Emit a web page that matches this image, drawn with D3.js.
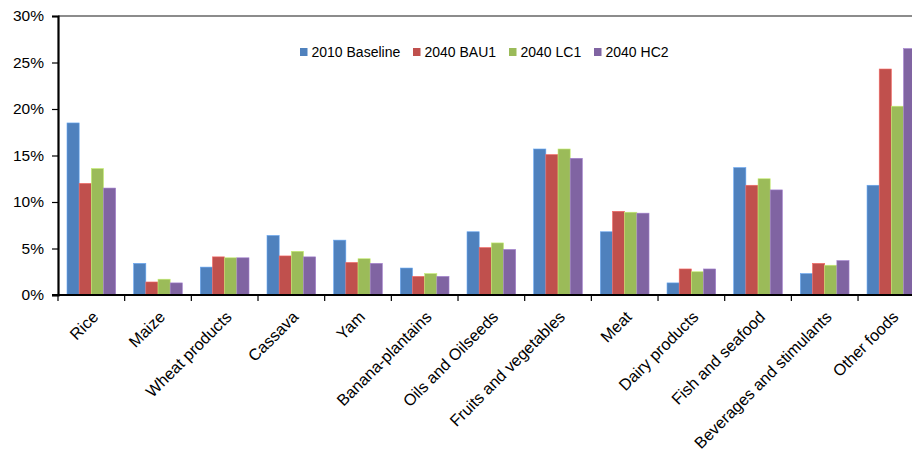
<!DOCTYPE html>
<html><head><meta charset="utf-8">
<script src="https://cdn.jsdelivr.net/npm/d3@7"></script>
<style>
html,body{margin:0;padding:0;background:#fff;}
svg{display:block;font-family:"Liberation Sans",Arial,sans-serif;}
</style></head><body>
<svg id="chart" width="912" height="458"></svg>
<script>
const categories = ["Rice","Maize","Wheat products","Cassava","Yam","Banana-plantains","Oils and Oilseeds","Fruits and vegetables","Meat","Dairy products","Fish and seafood","Beverages and stimulants","Other foods"];
const seriesNames = ["2010 Baseline","2040 BAU1","2040 LC1","2040 HC2"];
const baseline2010 = [18.5, 3.4, 3.0, 6.4, 5.9, 2.9, 6.8, 15.7, 6.8, 1.3, 13.7, 2.3, 11.8];
const bau1_2040    = [12.0, 1.4, 4.1, 4.2, 3.5, 2.0, 5.1, 15.1, 9.0, 2.8, 11.8, 3.4, 24.3];
const lc1_2040     = [13.6, 1.7, 4.0, 4.7, 3.9, 2.3, 5.6, 15.7, 8.9, 2.5, 12.5, 3.2, 20.3];
const hc2_2040     = [11.5, 1.3, 4.0, 4.1, 3.4, 2.0, 4.9, 14.7, 8.8, 2.8, 11.3, 3.7, 26.5];
const yTicks = [0, 5, 10, 15, 20, 25, 30];
const colors = ["#4F81BD","#C0504D","#9BBB59","#8064A2"];

const seriesValues = [baseline2010, bau1_2040, lc1_2040, hc2_2040];
const svg = d3.select("#chart");
const plotLeft = 58, plotTop = 16, plotBottom = 295, step = 66.67;
const plotRight = plotLeft + categories.length * step;

const x = d3.scaleBand().domain(categories).range([plotLeft, plotRight]).paddingInner(0.27).paddingOuter(0.135);
const xs = d3.scaleBand().domain(seriesNames).range([0, x.bandwidth()]);
const y = d3.scaleLinear().domain([0, 30]).range([plotBottom, plotTop]);

// top border
svg.append("line").attr("x1", plotLeft).attr("x2", plotRight).attr("y1", y(30)).attr("y2", y(30))
  .attr("stroke", "#666").attr("stroke-width", 1.6);

// bars
categories.forEach((c, i) => {
  const g = svg.append("g").attr("transform", `translate(${x(c)},0)`);
  seriesNames.forEach((s, j) => {
    const v = seriesValues[j][i];
    g.append("rect")
      .attr("x", xs(s)).attr("width", xs.bandwidth())
      .attr("y", y(v)).attr("height", y(0) - y(v))
      .attr("fill", colors[j])
      .attr("stroke", d3.color(colors[j]).brighter(0.7))
      .attr("stroke-width", 0.6);
  });
});

// y axis
const yAxis = svg.append("g").attr("transform", `translate(${plotLeft},0)`)
  .call(d3.axisLeft(y).tickValues(yTicks).tickFormat(d => d + "%").tickSize(6).tickPadding(8));
yAxis.select(".domain").attr("stroke", "#000").attr("stroke-width", 2.2);
yAxis.selectAll(".tick line").attr("stroke", "#000").attr("stroke-width", 1.2);
yAxis.selectAll(".tick text").attr("font-size", 15.5).attr("fill", "#000")
  .attr("font-family", "Liberation Sans, Arial, sans-serif");

// x axis baseline
svg.append("line").attr("x1", plotLeft - 6).attr("x2", plotRight).attr("y1", plotBottom).attr("y2", plotBottom)
  .attr("stroke", "#000").attr("stroke-width", 2.2);
// category boundary ticks
d3.range(categories.length + 1).forEach(i => {
  const tx = plotLeft + i * x.step();
  svg.append("line").attr("x1", tx).attr("x2", tx).attr("y1", plotBottom).attr("y2", plotBottom + 6)
    .attr("stroke", "#000").attr("stroke-width", 1.2);
});
// category labels
categories.forEach(c => {
  const cx = x(c) + x.bandwidth() / 2;
  svg.append("text")
    .attr("transform", `translate(${cx + 8},${plotBottom + 23}) rotate(-45)`)
    .attr("text-anchor", "end")
    .attr("font-size", 16.2)
    .attr("fill", "#000")
    .text(c);
});

// legend
const legendX = [300, 413, 509, 594];
seriesNames.forEach((s, j) => {
  const g = svg.append("g").attr("transform", `translate(${legendX[j]},48)`);
  g.append("rect").attr("width", 7.5).attr("height", 8).attr("fill", colors[j]);
  g.append("text").attr("x", 11.5).attr("y", 9).attr("font-size", 14).attr("fill", "#000").text(s);
});
</script>
</body></html>
